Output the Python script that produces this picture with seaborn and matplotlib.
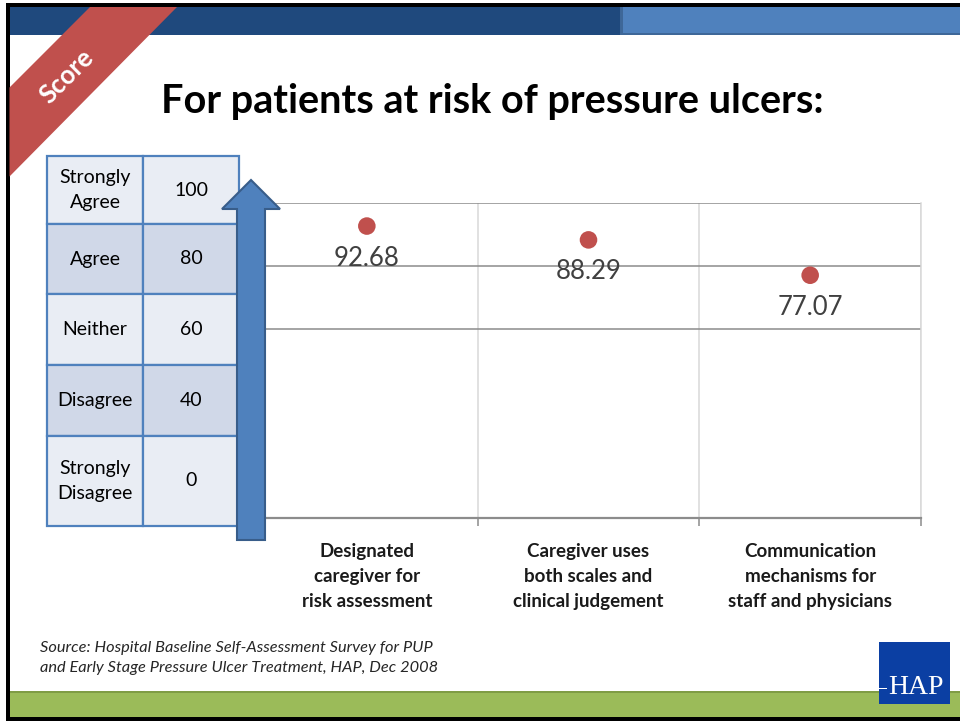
import matplotlib
matplotlib.use("Agg")
import matplotlib.pyplot as plt
from matplotlib.patches import Rectangle, Polygon
from matplotlib.transforms import blended_transform_factory, offset_copy
import seaborn as sns
import pandas as pd

# ---------------- data ----------------
categories = [
    "Designated\ncaregiver for\nrisk assessment",
    "Caregiver uses\nboth scales and\nclinical judgement",
    "Communication\nmechanisms for\nstaff and physicians",
]
scores = [92.68, 88.29, 77.07]
scale_labels = ["Strongly\nAgree", "Agree", "Neither", "Disagree", "Strongly\nDisagree"]
scale_values = ["100", "80", "60", "40", "0"]
title = "For patients at risk of pressure ulcers:"
source = ("Source: Hospital Baseline Self-Assessment Survey for PUP\n"
          "and Early Stage Pressure Ulcer Treatment, HAP, Dec 2008")

sns.set_theme(style="white")
plt.rcParams["font.family"] = ["Lato", "DejaVu Sans"]

W, H = 960, 723
fig = plt.figure(figsize=(W / 100, H / 100), dpi=100)
fig.patch.set_facecolor("white")

# ---------------- data axes ----------------
ax = fig.add_axes([256 / W, 1 - 518 / H, (921 - 256) / W, (518 - 203) / H])
ax.set_zorder(1)
df = pd.DataFrame({"category": categories, "score": scores})
sns.scatterplot(data=df, x="category", y="score", ax=ax, color="#C0504D",
                s=160, edgecolor="none", zorder=5, legend=False)
ax.set_xlim(-0.5, 2.5)
ax.set_ylim(0, 100)
ax.set_xlabel("")
ax.set_ylabel("")
ax.set_yticks([60, 80, 100])
ax.set_yticklabels([])
ax.tick_params(axis="y", length=0)
ax.grid(axis="y", color="#8C8C8C", linewidth=1.1)
ax.set_xticks([0, 1, 2])
ax.set_xticklabels([])
ax.set_xticks([0.5, 1.5, 2.5], minor=True)
ax.grid(axis="x", which="minor", color="#D9D9D9", linewidth=1.1)
ax.grid(axis="x", which="major", visible=False)
ax.tick_params(axis="x", which="minor", length=6, width=1.1, color="#8C8C8C",
               direction="out", bottom=True)
ax.tick_params(axis="x", which="major", length=0)
for side in ["top", "left"]:
    ax.spines[side].set_visible(False)
ax.spines["bottom"].set_color("#8C8C8C")
ax.spines["bottom"].set_linewidth(1.6)
ax.spines["right"].set_color("#D9D9D9")
ax.spines["right"].set_linewidth(1.1)
ax.set_facecolor("none")

# category labels (multi-line, below the axis)
trans = offset_copy(blended_transform_factory(ax.transData, ax.transAxes),
                    fig=fig, x=0, y=-25, units="dots")
for i, lab in enumerate(categories):
    ax.text(i, 0, lab, transform=trans, ha="center", va="top", fontsize=13.5,
            fontweight="bold", color="#1a1a1a", linespacing=1.58)

for i, v in enumerate(scores):
    ax.annotate(f"{v:.2f}", (i, v), xytext=(0, -32), textcoords="offset pixels",
                ha="center", va="center", fontsize=18.5, color="#404040")

# ---------------- overlay (decorations) ----------------
ov = fig.add_axes([0, 0, 1, 1])
ov.set_zorder(10)
ov.set_xlim(0, W)
ov.set_ylim(H, 0)
ov.axis("off")
ov.patch.set_alpha(0)

# top band
ov.add_patch(Rectangle((8, 7), 614, 28, facecolor="#1F497D", edgecolor="none"))
ov.add_patch(Rectangle((622, 7), W - 622, 28, facecolor="#4F81BD", edgecolor="none"))
ov.add_patch(Rectangle((622, 33), W - 622, 2, facecolor="#3E6798", edgecolor="none"))
ov.add_patch(Rectangle((620, 7), 3, 28, facecolor="#3E6798", edgecolor="none"))
# bottom green band
ov.add_patch(Rectangle((8, 692), W - 8, 26, facecolor="#9BBB59", edgecolor="none"))
ov.add_patch(Rectangle((8, 691), W - 8, 1.5, facecolor="#7F9C45", edgecolor="none"))
# black frame
ov.add_patch(Rectangle((6, 3), W - 6, 4, facecolor="black", edgecolor="none"))
ov.add_patch(Rectangle((6, 3), 3.5, 718, facecolor="black", edgecolor="none"))
ov.add_patch(Rectangle((6, 717), W - 6, 3.5, facecolor="black", edgecolor="none"))

# red "Score" banner
ov.add_patch(Polygon([(90, 7), (177, 7), (9.5, 176.5), (9.5, 87.5)], closed=True,
                     facecolor="#C0504D", edgecolor="none"))
ov.text(67, 76, "Score", rotation=45, ha="center", va="center", color="white",
        fontsize=18.5, fontweight="bold", rotation_mode="anchor")

# title
ov.text(492, 101, title, ha="center", va="center", fontsize=28.5,
        fontweight="bold", color="black")

# scale table
row_edges = [156, 224, 294, 365, 436, 526]
col_edges = [47, 143, 239]
fills = ["#E9EDF4", "#D0D8E8", "#E9EDF4", "#D0D8E8", "#E9EDF4"]
for r in range(5):
    y0, y1 = row_edges[r], row_edges[r + 1]
    for c in range(2):
        x0, x1 = col_edges[c], col_edges[c + 1]
        ov.add_patch(Rectangle((x0, y0), x1 - x0, y1 - y0, facecolor=fills[r],
                               edgecolor="#4F81BD", linewidth=1.6))
    yc = (y0 + y1) / 2
    ov.text((col_edges[0] + col_edges[1]) / 2, yc, scale_labels[r], ha="center",
            va="center", fontsize=14, color="black", linespacing=1.58)
    ov.text((col_edges[1] + col_edges[2]) / 2, yc, scale_values[r], ha="center",
            va="center", fontsize=14, color="black")

# up arrow
ov.add_patch(Polygon([(237, 540), (265, 540), (265, 209), (280, 209), (251, 180),
                      (222, 209), (237, 209)], closed=True, facecolor="#4F81BD",
                     edgecolor="#385D8A", linewidth=1.5))

# source
ov.text(40, 658, source, ha="left", va="center", fontsize=11.8, style="italic",
        color="#262626", linespacing=1.6)

# HAP logo
ov.add_patch(Rectangle((879, 642), 71, 62, facecolor="#0B3FA3", edgecolor="none"))
ov.text(916, 688, "HAP", ha="center", va="center", color="white", fontsize=20,
        family="Liberation Serif")
ov.add_patch(Rectangle((879, 687.5), 8, 1.8, facecolor="white", edgecolor="none"))

fig.savefig("out.png", dpi=100, facecolor="white")
